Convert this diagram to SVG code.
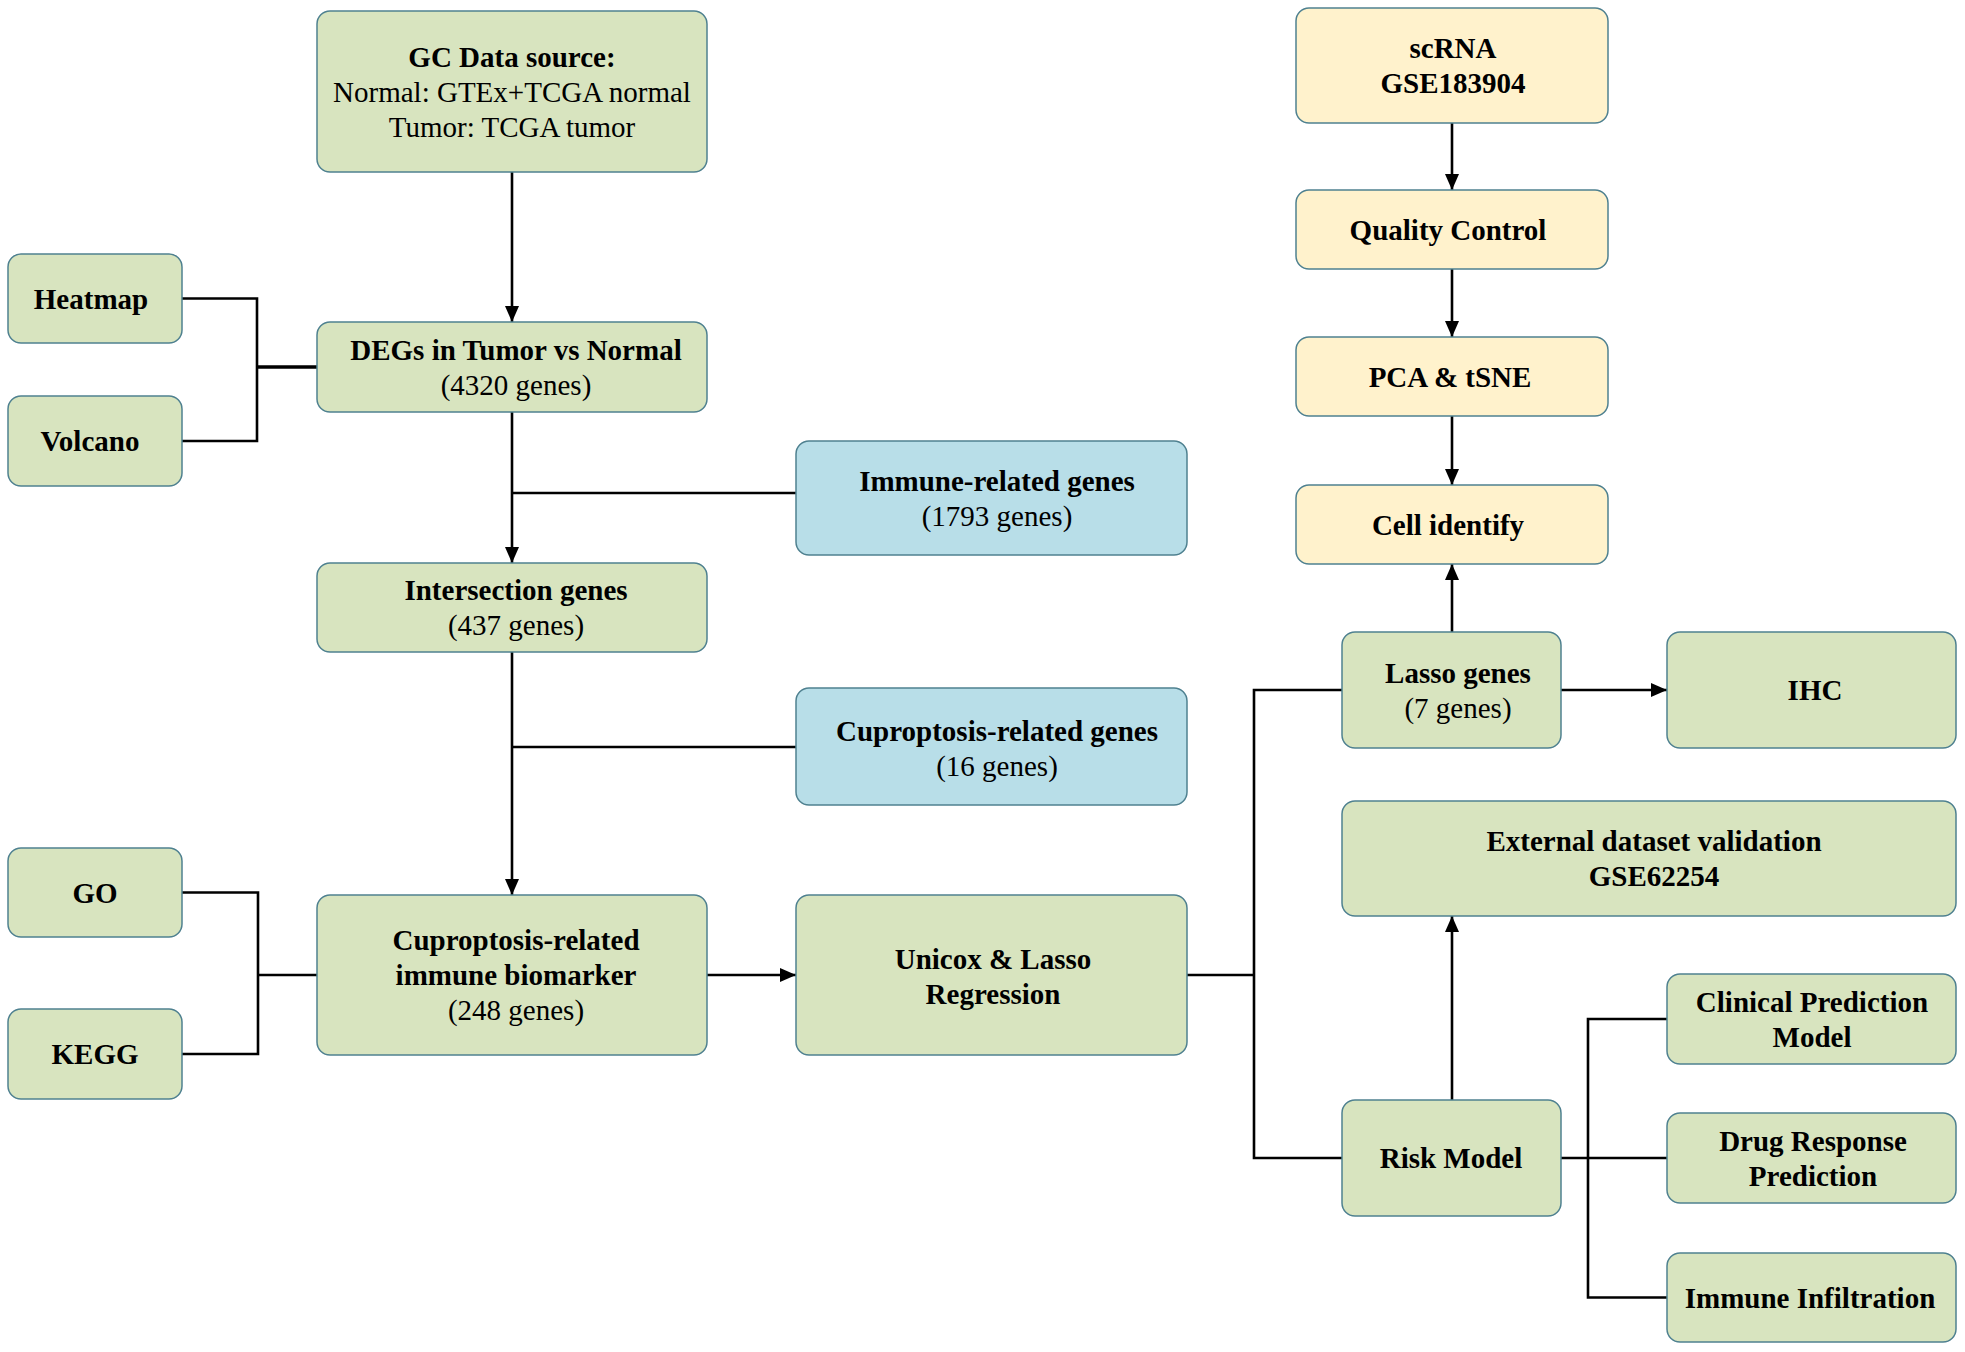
<svg xmlns="http://www.w3.org/2000/svg" width="1965" height="1352" viewBox="0 0 1965 1352">
<defs>
<style>
.g{fill:#d8e4bf;stroke:#4f8190;stroke-width:1.5}
.b{fill:#b8dee8;stroke:#4f8190;stroke-width:1.5}
.y{fill:#fff2cc;stroke:#4f8190;stroke-width:1.5}
text{font-family:"Liberation Serif","Times New Roman",serif;font-size:29px;fill:#000;text-anchor:middle}
.bd{font-weight:bold}
.c{fill:none;stroke:#000;stroke-width:2.6}
.j{fill:none;stroke:#000;stroke-width:3.6}
</style>
<marker id="ah" viewBox="0 0 16 14" refX="16" refY="7" markerWidth="16" markerHeight="14" markerUnits="userSpaceOnUse" orient="auto">
<path d="M0,0 L16,7 L0,14 Z" fill="#000"/>
</marker>
</defs>
<rect width="1965" height="1352" fill="#fff"/>
<g id="connectors">
<path class="c" d="M512,172 V322" marker-end="url(#ah)"/>
<path class="c" d="M182,298.5 H257 V441 H182"/>
<path class="j" d="M257,367 H317"/>
<path class="c" d="M512,412 V563" marker-end="url(#ah)"/>
<path class="c" d="M796,493 H512"/>
<path class="c" d="M512,652 V895" marker-end="url(#ah)"/>
<path class="c" d="M796,747 H512"/>
<path class="c" d="M182,892.5 H258 V1054 H182"/>
<path class="c" d="M258,975 H317"/>
<path class="c" d="M707,975 H796" marker-end="url(#ah)"/>
<path class="c" d="M1187,975 H1254"/>
<path class="c" d="M1342,690 H1254 V1158 H1342"/>
<path class="c" d="M1452,632 V564" marker-end="url(#ah)"/>
<path class="c" d="M1561,690 H1667" marker-end="url(#ah)"/>
<path class="c" d="M1452,1100 V916" marker-end="url(#ah)"/>
<path class="c" d="M1561,1158 H1667"/>
<path class="c" d="M1667,1019 H1588 V1297.5 H1667"/>
<path class="c" d="M1452,123 V190" marker-end="url(#ah)"/>
<path class="c" d="M1452,269 V337" marker-end="url(#ah)"/>
<path class="c" d="M1452,416 V485" marker-end="url(#ah)"/>
</g>
<g id="gc"><rect class="g" x="317" y="11" width="390" height="161" rx="13"/>
<text x="512" y="66.5" class="bd">GC Data source:</text>
<text x="512" y="101.5">Normal: GTEx+TCGA normal</text>
<text x="512" y="136.5">Tumor: TCGA tumor</text></g>
<g id="heatmap"><rect class="g" x="8" y="254" width="174" height="89" rx="13"/>
<text x="91" y="308.5" class="bd">Heatmap</text></g>
<g id="volcano"><rect class="g" x="8" y="396" width="174" height="90" rx="13"/>
<text x="90" y="451" class="bd">Volcano</text></g>
<g id="degs"><rect class="g" x="317" y="322" width="390" height="90" rx="13"/>
<text x="516" y="359.5" class="bd">DEGs in Tumor vs Normal</text>
<text x="516" y="394.5">(4320 genes)</text></g>
<g id="immune-genes"><rect class="b" x="796" y="441" width="391" height="114" rx="13"/>
<text x="997" y="491" class="bd">Immune-related genes</text>
<text x="997" y="526">(1793 genes)</text></g>
<g id="intersection"><rect class="g" x="317" y="563" width="390" height="89" rx="13"/>
<text x="516" y="600" class="bd">Intersection genes</text>
<text x="516" y="635">(437 genes)</text></g>
<g id="cupro-genes"><rect class="b" x="796" y="688" width="391" height="117" rx="13"/>
<text x="997" y="740.5" class="bd">Cuproptosis-related genes</text>
<text x="997" y="775.5">(16 genes)</text></g>
<g id="go"><rect class="g" x="8" y="848" width="174" height="89" rx="13"/>
<text x="95" y="902.5" class="bd">GO</text></g>
<g id="kegg"><rect class="g" x="8" y="1009" width="174" height="90" rx="13"/>
<text x="95" y="1064" class="bd">KEGG</text></g>
<g id="biomarker"><rect class="g" x="317" y="895" width="390" height="160" rx="13"/>
<text x="516" y="950" class="bd">Cuproptosis-related</text>
<text x="516" y="985" class="bd">immune biomarker</text>
<text x="516" y="1020">(248 genes)</text></g>
<g id="unicox"><rect class="g" x="796" y="895" width="391" height="160" rx="13"/>
<text x="993" y="968.5" class="bd">Unicox &amp; Lasso</text>
<text x="993" y="1003.5" class="bd">Regression</text></g>
<g id="scrna"><rect class="y" x="1296" y="8" width="312" height="115" rx="13"/>
<text x="1453" y="58" class="bd">scRNA</text>
<text x="1453" y="93" class="bd">GSE183904</text></g>
<g id="qc"><rect class="y" x="1296" y="190" width="312" height="79" rx="13"/>
<text x="1448" y="240" class="bd">Quality Control</text></g>
<g id="pca"><rect class="y" x="1296" y="337" width="312" height="79" rx="13"/>
<text x="1450" y="386.5" class="bd">PCA &amp; tSNE</text></g>
<g id="cell"><rect class="y" x="1296" y="485" width="312" height="79" rx="13"/>
<text x="1448" y="534.5" class="bd">Cell identify</text></g>
<g id="lasso"><rect class="g" x="1342" y="632" width="219" height="116" rx="13"/>
<text x="1458" y="682.5" class="bd">Lasso genes</text>
<text x="1458" y="717.5">(7 genes)</text></g>
<g id="ihc"><rect class="g" x="1667" y="632" width="289" height="116" rx="13"/>
<text x="1815" y="700" class="bd">IHC</text></g>
<g id="external"><rect class="g" x="1342" y="801" width="614" height="115" rx="13"/>
<text x="1654" y="851" class="bd">External dataset validation</text>
<text x="1654" y="886" class="bd">GSE62254</text></g>
<g id="risk"><rect class="g" x="1342" y="1100" width="219" height="116" rx="13"/>
<text x="1451" y="1168" class="bd">Risk Model</text></g>
<g id="clinical"><rect class="g" x="1667" y="974" width="289" height="90" rx="13"/>
<text x="1812" y="1011.5" class="bd">Clinical Prediction</text>
<text x="1812" y="1046.5" class="bd">Model</text></g>
<g id="drug"><rect class="g" x="1667" y="1113" width="289" height="90" rx="13"/>
<text x="1813" y="1150.5" class="bd">Drug Response</text>
<text x="1813" y="1185.5" class="bd">Prediction</text></g>
<g id="infiltration"><rect class="g" x="1667" y="1253" width="289" height="89" rx="13"/>
<text x="1810" y="1307.5" class="bd">Immune Infiltration</text></g>
</svg>
